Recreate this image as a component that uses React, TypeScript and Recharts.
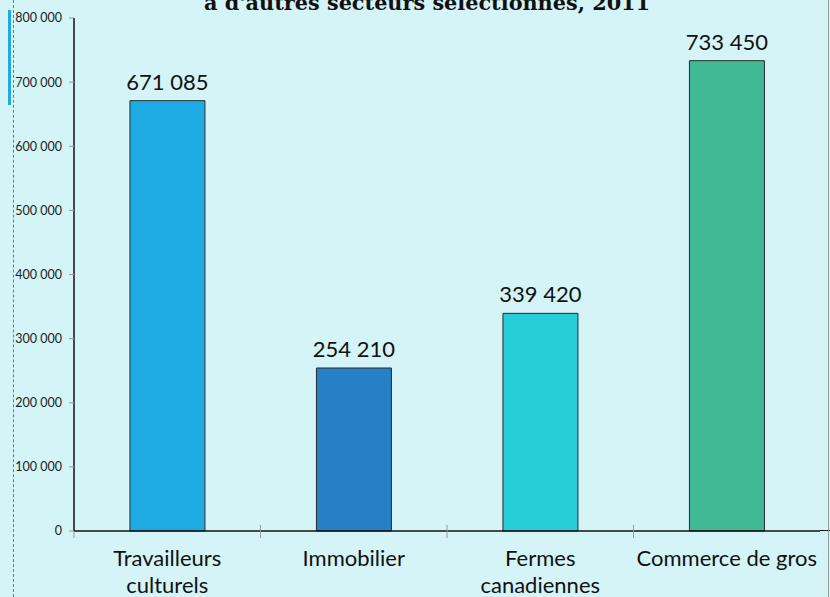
import React from "react";
import { BarChart, Bar, XAxis, YAxis, Cell, LabelList } from "recharts";

const categories = [["Travailleurs", "culturels"], ["Immobilier"], ["Fermes", "canadiennes"], ["Commerce de gros"]];
const values = [671085, 254210, 339420, 733450];
const colors = ["#1eabe3", "#2580c6", "#27ced7", "#42b995"];
const yTicks = [0, 100000, 200000, 300000, 400000, 500000, 600000, 700000, 800000];
const titleText = "à d'autres secteurs sélectionnés, 2011";

const data = categories.map((c, i) => ({ name: c.join(" "), value: values[i] }));

const fmt = (v: number) => String(Math.round(v)).replace(/\B(?=(\d{3})+(?!\d))/g, " ");

const FONT = "Lato, 'Noto Sans', sans-serif";

const CatTick = (props: any) => {
  const { x, y, payload } = props;
  const idx = data.findIndex((d) => d.name === payload.value);
  const lines = categories[idx] || [payload.value];
  const half = typeof payload.offset === "number" ? payload.offset : 0;
  const bx = x - half;
  return (
    <g>
      {half > 0 && (
        <line x1={bx} x2={bx} y1={idx === 0 ? y : y - 6} y2={y + 7} stroke="#999" strokeWidth={1} />
      )}
      <text x={x} y={y} textAnchor="middle" fontFamily={FONT} fontSize={22} fill="#111">
        {lines.map((l: string, i: number) => (
          <tspan key={i} x={x} dy={i === 0 ? 35 : 27}>
            {l}
          </tspan>
        ))}
      </text>
    </g>
  );
};

export default function App() {
  return (
    <div
      style={{
        position: "fixed",
        left: 0,
        top: 0,
        width: 830,
        height: 597,
        overflow: "hidden",
        background: "#d4f4f7",
      }}
    >
      <div
        style={{
          position: "absolute",
          left: 13,
          top: 0,
          height: 597,
          width: 0,
          borderLeft: "1px dashed #777",
        }}
      />
      <div style={{ position: "absolute", left: 8, top: 10, width: 3, height: 95, background: "#1eabe3" }} />
      <svg width={830} height={30} style={{ position: "absolute", left: 0, top: 0 }}>
        <text
          x={427}
          y={10}
          textAnchor="middle"
          fontFamily="'DejaVu Serif', serif"
          fontWeight="bold"
          fontSize={20.8}
          fill="#111"
        >
          {titleText}
        </text>
      </svg>
      <div style={{ position: "absolute", left: 820, top: 530, width: 10, height: 0, borderTop: "1.5px solid #111" }} />
      <div style={{ position: "absolute", left: 828, top: 0, width: 0, height: 597, borderLeft: "1px solid #999" }} />
      <div style={{ position: "absolute", left: 0, top: 0 }}>
        <BarChart
          width={830}
          height={597}
          data={data}
          margin={{ top: 18, right: 10, bottom: 0, left: 0 }}
          barCategoryGap="30%"
        >
          <XAxis
            dataKey="name"
            height={66}
            axisLine={{ stroke: "#111", strokeWidth: 1.5 }}
            tickLine={false}
            tickSize={0}
            tickMargin={0}
            tick={<CatTick />}
            interval={0}
          />
          <YAxis
            width={74}
            domain={[0, 800000]}
            ticks={yTicks}
            interval={0}
            tickFormatter={fmt}
            axisLine={{ stroke: "#111", strokeWidth: 1.5 }}
            tickLine={{ stroke: "#999" }}
            tickSize={5}
            tickMargin={7}
            tick={{ fontFamily: FONT, fontSize: 12.5, fill: "#222" }}
          />
          <Bar dataKey="value" isAnimationActive={false} stroke="#2b2b2b" strokeWidth={1}>
            {data.map((d, i) => (
              <Cell key={i} fill={colors[i]} />
            ))}
            <LabelList
              dataKey="value"
              position="top"
              offset={11}
              formatter={(v: any) => fmt(Number(v))}
              style={{ fontFamily: FONT, fontSize: 22, fill: "#111" }}
            />
          </Bar>
        </BarChart>
      </div>
    </div>
  );
}
